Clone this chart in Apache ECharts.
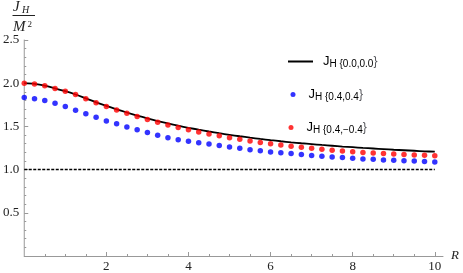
<!DOCTYPE html>
<html>
<head>
<meta charset="utf-8">
<script src="https://cdn.jsdelivr.net/npm/echarts@6/dist/echarts.min.js"></script>
<style>html,body{margin:0;padding:0;background:#fff;}#c{width:463px;height:273px;}</style>
</head>
<body>
<div id="c"></div>
<script>
// R values (x)
const R = [0,0.25,0.5,0.75,1,1.25,1.5,1.75,2,2.25,2.5,2.75,3,3.25,3.5,3.75,4,4.25,4.5,4.75,5,5.25,5.5,5.75,6,6.25,6.5,6.75,7,7.25,7.5,7.75,8,8.25,8.5,8.75,9,9.25,9.5,9.75,10];
// J_H {0.0,0.0} (black curve)
const jBlack = [2.000,1.993,1.973,1.941,1.907,1.869,1.824,1.779,1.737,1.698,1.661,1.626,1.593,1.562,1.534,1.508,1.484,1.462,1.441,1.421,1.403,1.386,1.370,1.355,1.341,1.328,1.316,1.305,1.295,1.285,1.276,1.267,1.259,1.251,1.244,1.237,1.230,1.224,1.218,1.212,1.207];
// J_H {0.4,0.4} (blue dots)
const jBlue = [1.834,1.821,1.799,1.767,1.730,1.688,1.647,1.605,1.563,1.530,1.494,1.460,1.428,1.398,1.369,1.345,1.327,1.312,1.295,1.280,1.263,1.247,1.231,1.217,1.205,1.195,1.185,1.176,1.163,1.155,1.147,1.139,1.131,1.124,1.119,1.112,1.107,1.103,1.099,1.095,1.089];
// J_H {0.4,-0.4} (red dots)
const jRed = [2.000,1.991,1.971,1.939,1.906,1.868,1.821,1.775,1.731,1.691,1.653,1.615,1.580,1.548,1.517,1.488,1.462,1.436,1.412,1.391,1.370,1.351,1.332,1.315,1.299,1.285,1.271,1.258,1.246,1.235,1.225,1.215,1.207,1.199,1.192,1.185,1.180,1.174,1.169,1.165,1.159];
// dashed reference line J/M^2 = 1
const refX = [0,10];
const refY = [1,1];
// tick labels
const xMajorTicks = [2,4,6,8,10];
const xMinorTicks = [0.5,1,1.5,2.5,3,3.5,4.5,5,5.5,6.5,7,7.5,8.5,9,9.5];
const names = ['J_H {0.0,0.0}','J_H {0.4,0.4}','J_H {0.4,\u22120.4}'];
const subs = ['H {0.0,0.0}','H {0.4,0.4}','H {0.4,\u22120.4}'];

const chart = echarts.init(document.getElementById('c'));
const serif = 'Liberation Serif';
const sans = 'Liberation Sans';
const axisGray = '#999';

function legendCfg(i, left, top, w, h, pad, icon) {
  return {
    data: [{ name: names[i], icon: icon }], left: left, top: top, orient: 'vertical',
    itemWidth: w, itemHeight: h, padding: 0,
    formatter: function () { return '{j|J}{s|' + subs[i] + '}'; },
    textStyle: {
      rich: {
        j: { fontFamily: sans, fontSize: 13, color: '#000', padding: [0, 0, 0, pad] },
        s: { fontFamily: sans, fontSize: 10, color: '#000', padding: [6, 0, 0, 0] }
      }
    }
  };
}

chart.setOption({
  animation: false,
  backgroundColor: '#fff',
  grid: { left: 23, top: 40, width: 420, height: 219, containLabel: false },
  legend: [
    legendCfg(0, 288, 55, 25, 2, 5, 'rect'),
    legendCfg(1, 290.5, 88, 21, 5, 0, 'circle'),
    legendCfg(2, 288.5, 121, 21, 5, 0, 'circle')
  ],
  xAxis: [{
    type: 'value', min: 0, max: 10.2, position: 'bottom',
    axisLine: { lineStyle: { color: axisGray, width: 1 } },
    axisTick: { inside: true, length: 4, customValues: xMajorTicks, lineStyle: { color: axisGray } },
    axisLabel: { customValues: xMajorTicks, fontFamily: serif, fontSize: 13, color: '#222', margin: 4 },
    splitLine: { show: false },
    name: 'R', nameLocation: 'end', nameGap: 8,
    nameTextStyle: { fontFamily: serif, fontStyle: 'italic', fontSize: 13, color: '#222' }
  }, {
    type: 'value', min: 0, max: 10.2, position: 'bottom',
    axisLine: { show: false },
    axisTick: { inside: true, length: 2, customValues: xMinorTicks, lineStyle: { color: axisGray } },
    axisLabel: { show: false },
    splitLine: { show: false }
  }],
  yAxis: {
    type: 'value', min: 0, max: 2.5, interval: 0.5,
    axisLine: { show: true, lineStyle: { color: axisGray, width: 1 } },
    axisTick: { show: true, inside: true, length: 4, lineStyle: { color: axisGray } },
    minorTick: { show: true, splitNumber: 5, length: 2, lineStyle: { color: axisGray } },
    axisLabel: { showMinLabel: false, formatter: v => v.toFixed(1), fontFamily: serif, fontSize: 13, color: '#222', margin: 5 },
    splitLine: { show: false }
  },
  graphic: [
    { type: 'text', left: 13, top: 0, style: { text: 'J', font: 'italic 15px "Liberation Serif"', fill: '#222' } },
    { type: 'text', left: 22, top: 5, style: { text: 'H', font: 'italic 10px "Liberation Serif"', fill: '#222' } },
    { type: 'line', shape: { x1: 12.5, y1: 15.5, x2: 35, y2: 15.5 }, style: { stroke: '#222', lineWidth: 1 } },
    { type: 'text', left: 13, top: 20, style: { text: 'M', font: 'italic 15px "Liberation Serif"', fill: '#222' } },
    { type: 'text', left: 27.5, top: 20, style: { text: '2', font: '9px "Liberation Serif"', fill: '#222' } }
  ],
  series: [
    { name: names[0], type: 'line', smooth: 0.3, symbol: 'none',
      data: R.map((r, i) => [r, jBlack[i]]), lineStyle: { color: '#000', width: 1.8 }, itemStyle: { color: '#000' }, z: 2 },
    { name: names[1], type: 'scatter', symbol: 'circle', symbolSize: 5.5,
      data: R.map((r, i) => [r, jBlue[i]]), itemStyle: { color: '#0000ff' }, z: 3 },
    { name: names[2], type: 'scatter', symbol: 'circle', symbolSize: 5.5,
      data: R.map((r, i) => [r, jRed[i]]), itemStyle: { color: '#ff0000' }, z: 4 },
    { name: 'ref', type: 'line', symbol: 'none', silent: true,
      data: refX.map((x, i) => [x, refY[i]]), lineStyle: { color: '#000', width: 1.5, type: [3, 1.5] }, z: 1 }
  ]
});
</script>
</body>
</html>
